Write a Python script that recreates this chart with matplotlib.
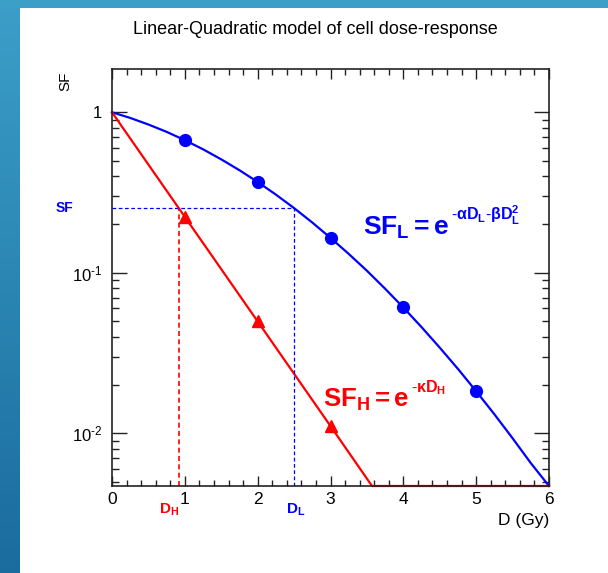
import matplotlib
matplotlib.use("Agg")
import matplotlib.pyplot as plt
import numpy as np
from matplotlib.ticker import FixedLocator, FixedFormatter, NullFormatter, MultipleLocator

plt.rcParams["font.family"] = ["Liberation Sans", "DejaVu Sans"]
plt.rcParams["mathtext.fontset"] = "custom"
plt.rcParams["mathtext.rm"] = "Liberation Sans"
plt.rcParams["mathtext.it"] = "Liberation Sans:italic"
plt.rcParams["mathtext.bf"] = "Liberation Sans:bold"

# measured survival fractions
dose_low = [1, 2, 3, 4, 5]
sf_low = [0.67, 0.37, 0.165, 0.061, 0.0183]
dose_high = [1, 2, 3]
sf_high = [0.223, 0.050, 0.0111]

# fitted model curves (low LET: linear-quadratic, high LET: exponential)
curve_dose_low = [0, 0.25, 0.5, 0.75, 1, 1.25, 1.5, 1.75, 2, 2.25, 2.5, 2.75, 3,
                  3.25, 3.5, 3.75, 4, 4.25, 4.5, 4.75, 5, 5.25, 5.5, 5.75, 6]
curve_sf_low = [1.0, 0.922, 0.839, 0.755, 0.670, 0.588, 0.509, 0.4355, 0.368,
                0.307, 0.253, 0.2057, 0.165, 0.1312, 0.103, 0.0796, 0.0608,
                0.0459, 0.0342, 0.0252, 0.0183, 0.01315, 0.00932, 0.00653, 0.0047]
curve_dose_high = [0, 1, 2, 3, 3.57, 6]
curve_sf_high = [1.0, 0.223, 0.0498, 0.0111, 0.0047, 0.0047]

# iso-effect level
sf_level = 0.253
d_low = 2.5
d_high = 0.92

y_ticks = [0.01, 0.1, 1]
y_labels = [r"$10^{\text{-}2}$", r"$10^{\text{-}1}$", "1"]
x_ticks = [0, 1, 2, 3, 4, 5, 6]

BLUE = "#0000ff"
RED = "#ff0000"

fig = plt.figure(figsize=(6.08, 5.73), dpi=100)
W, H = 608, 573

# frame bands
band = fig.add_axes([0, 0, 20 / W, 1])
grad = np.linspace(0, 1, 256).reshape(-1, 1)
cmap = matplotlib.colors.LinearSegmentedColormap.from_list("band", ["#3c9fc8", "#1a6c9e"])
band.imshow(grad, aspect="auto", cmap=cmap, extent=[0, 1, 0, 1], origin="upper")
band.axis("off")
fig.add_artist(plt.Rectangle((0, 1 - 8 / H), 1, 8 / H, transform=fig.transFigure,
                             color="#3c9fc8", lw=0))

ax = fig.add_axes([112 / W, 1 - 486 / H, (549 - 112) / W, (486 - 69) / H])
ax.set_yscale("log")
ax.set_xlim(0, 6)
ax.set_ylim(0.0047, 1.86)

ax.plot(curve_dose_low, curve_sf_low, color=BLUE, lw=1.6, clip_on=False)
ax.plot(curve_dose_high, curve_sf_high, color=RED, lw=1.6, clip_on=False)
ax.plot(dose_low, sf_low, "o", color=BLUE, ms=8.5)
ax.plot(dose_high, sf_high, "^", color=RED, ms=8)

dash = (0, (3, 2))
ax.plot([0, d_low], [sf_level, sf_level], color=BLUE, lw=0.9, ls=dash)
ax.plot([d_low, d_low], [0.0047, sf_level], color=BLUE, lw=0.9, ls=dash)
ax.plot([d_high, d_high], [0.0047, sf_level], color=RED, lw=1.2, ls=dash)

ax.xaxis.set_major_locator(FixedLocator(x_ticks))
ax.xaxis.set_minor_locator(MultipleLocator(0.2))
ax.yaxis.set_major_locator(FixedLocator(y_ticks))
ax.yaxis.set_major_formatter(FixedFormatter(y_labels))
ax.yaxis.set_minor_formatter(NullFormatter())
ax.tick_params(which="both", direction="in", top=True, right=True, width=1,
               labelsize=12.5, color="#222222")
ax.tick_params(axis="x", which="major", length=7.5, pad=4)
ax.tick_params(axis="x", which="minor", length=4)
ax.tick_params(axis="y", which="major", length=10.5, pad=7, labelsize=12)
ax.tick_params(axis="y", which="minor", length=5)
for s in ax.spines.values():
    s.set_linewidth(1.2)
    s.set_color("#222222")

fig.text(315 / W, 1 - 30 / H, "Linear-Quadratic model of cell dose-response",
         ha="center", va="center", fontsize=13)
fig.text(65 / W, 1 - 81 / H, "SF", rotation=90, ha="center", va="center", fontsize=11)
fig.text(549 / W, 1 - 520 / H, "D (Gy)", ha="right", va="center", fontsize=12.5)

ax.text(-0.089, sf_level, "SF", color=BLUE, fontsize=10, fontweight="bold",
        ha="right", va="center", transform=ax.get_yaxis_transform())
ax.text(d_high - 0.13, -0.057, r"$\mathbf{D_H}$", color=RED, fontsize=11,
        ha="center", va="center", transform=ax.get_xaxis_transform())
ax.text(d_low + 0.02, -0.057, r"$\mathbf{D_L}$", color=BLUE, fontsize=11,
        ha="center", va="center", transform=ax.get_xaxis_transform())

# model labels
eq_l = ax.text(3.45, 0.172, r"$\mathbf{SF_L = e}$", color=BLUE, fontsize=19,
               ha="left", va="baseline")
ax.annotate(r"$\mathbf{\text{-}\alpha D_L\text{-}\beta D_L^2}$", xy=(1, 0.97), xycoords=eq_l,
            xytext=(1, 0), textcoords="offset points", color=BLUE, fontsize=11.5,
            ha="left", va="center")
eq_h = ax.text(2.9, 0.0146, r"$\mathbf{SF_H = e}$", color=RED, fontsize=18.5,
               ha="left", va="baseline")
ax.annotate(r"$\mathbf{\text{-}\kappa D_H}$", xy=(1, 0.97), xycoords=eq_h,
            xytext=(1, 0), textcoords="offset points", color=RED, fontsize=11.5,
            ha="left", va="center")

fig.savefig("out.png", dpi=100)
